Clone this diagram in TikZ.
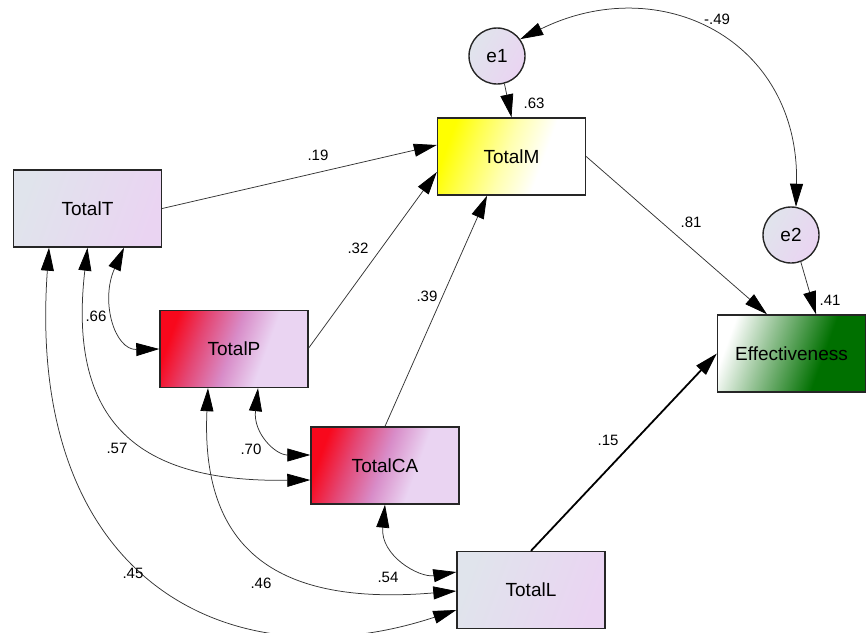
\documentclass[tikz,border=0pt]{standalone}
\usepackage{fontspec}
\setmainfont{Liberation Sans}
\usetikzlibrary{arrows.meta,calc}
\definecolor{gA}{RGB}{224,228,236}
\definecolor{gB}{RGB}{234,212,242}
\definecolor{rA}{RGB}{248,8,28}
\definecolor{rB}{RGB}{228,70,115}
\definecolor{rC}{RGB}{216,140,200}
\definecolor{yA}{RGB}{255,255,0}
\definecolor{yM}{RGB}{255,255,80}
\definecolor{yB}{RGB}{255,255,175}
\definecolor{gnA}{RGB}{0,112,0}
\definecolor{gnB}{RGB}{150,195,150}
\pgfdeclarehorizontalshading{shT}{100bp}{color(0bp)=(gA); color(25bp)=(gA); color(75bp)=(gB); color(100bp)=(gB)}
\pgfdeclarehorizontalshading{shR}{100bp}{color(0bp)=(rA); color(25bp)=(rA); color(36bp)=(rB); color(49bp)=(rC); color(62bp)=(gB); color(100bp)=(gB)}
\pgfdeclarehorizontalshading{shY}{100bp}{color(0bp)=(yA); color(25bp)=(yA); color(35bp)=(yM); color(48bp)=(yB); color(62bp)=(white); color(100bp)=(white)}
\pgfdeclarehorizontalshading{shG}{100bp}{color(0bp)=(white); color(25bp)=(white); color(40bp)=(gnB); color(62bp)=(gnA); color(100bp)=(gnA)}
\tikzset{
  tip/.tip={Triangle[length=23pt,width=13pt,color=black]},
  box/.style={draw=black!85, line width=1.4pt, minimum width=148pt, minimum height=77pt, inner sep=0pt, font=\fontsize{19}{22}\selectfont, shade},
  lat/.style={circle, draw=black!85, line width=1.4pt, minimum size=56pt, inner sep=0pt, font=\fontsize{19}{22}\selectfont, shade, shading=shT, shading angle=-30},
  lbl/.style={font=\fontsize{15}{18}\selectfont, inner sep=0pt},
  reg/.style={draw=black!80, line width=0.75pt, -tip},
  cov/.style={draw=black!80, line width=0.75pt, tip-tip},
}
\begin{document}
\begin{tikzpicture}[x=1pt,y=-1pt]
\useasboundingbox (0,0) rectangle (867,632);
% nodes
\node[box, shading=shT, shading angle=-20] (TT) at (87.5,208.5) {TotalT};
\node[box, shading=shR, shading angle=-20] (TP) at (234,349) {TotalP};
\node[box, shading=shR, shading angle=-20] (TCA) at (385,465.5) {TotalCA};
\node[box, shading=shT, shading angle=-20] (TL) at (531,590) {TotalL};
\node[box, shading=shY, shading angle=-20] (TM) at (511.5,156.5) {TotalM};
\node[box, shading=shG, shading angle=-20] (EF) at (791.5,353.5) {Effectiveness};
\node[lat] (e1) at (497,56) {e1};
\node[lat] (e2) at (791,235) {e2};
% regressions
\draw[reg] (TT.east) -- ([yshift=11.5pt]TM.west);
\draw[reg] ([yshift=1pt]TP.east) -- ([yshift=-15.5pt]TM.west);
\draw[reg] (TCA.north) -- ([xshift=-24.5pt]TM.south);
\draw[reg] (TM.east) -- ([xshift=-24.5pt]EF.north);
\draw[reg, draw=black, line width=1.8pt] (TL.north) -- (EF.west);
\draw[reg] (e1.-75) -- (TM.north);
\draw[reg] (e2.-70) -- ([xshift=24.5pt]EF.north);
% covariances
\draw[cov] (e1.36) .. controls +(140,-69) and +(4,-167) .. (e2.80);
\draw[cov] ([xshift=36.5pt]TT.south) .. controls +(-24,53) and +(-45,1) .. (TP.west);
\draw[cov] (TT.south) .. controls +(-22.5,193) and +(-151,2) .. ([yshift=-14.5pt]TCA.west);
\draw[cov] ([xshift=-38.5pt]TT.south) .. controls +(-24,333) and +(-227,75) .. ([yshift=-20pt]TL.west);
\draw[cov] ([xshift=24pt]TP.south) .. controls +(-5,45) and +(-35,0) .. ([yshift=10.5pt]TCA.west);
\draw[cov] ([xshift=-26pt]TP.south) .. controls +(-8,172) and +(-167,14) .. ([yshift=-1pt]TL.west);
\draw[cov] (TCA.south) .. controls +(-5,51) and +(-37,6) .. ([yshift=18pt]TL.west);
% labels
\node[lbl] (l19) at (318,155) {.19};
\node[lbl] (l32) at (358,248) {.32};
\node[lbl] (l39) at (427,296) {.39};
\node[lbl] (l81) at (691,222) {.81};
\node[lbl] (l15) at (608,440) {.15};
\node[lbl] (l63) at (534,103) {.63};
\node[lbl] (l49) at (717,19) {-.49};
\node[lbl] (l41) at (830,300) {.41};
\node[lbl] (l66) at (96,316) {.66};
\node[lbl] (l70) at (251,449) {.70};
\node[lbl] (l57) at (117,448) {.57};
\node[lbl] (l45) at (133,573) {.45};
\node[lbl] (l46) at (261,583) {.46};
\node[lbl] (l54) at (388,577) {.54};
\end{tikzpicture}
\end{document}
